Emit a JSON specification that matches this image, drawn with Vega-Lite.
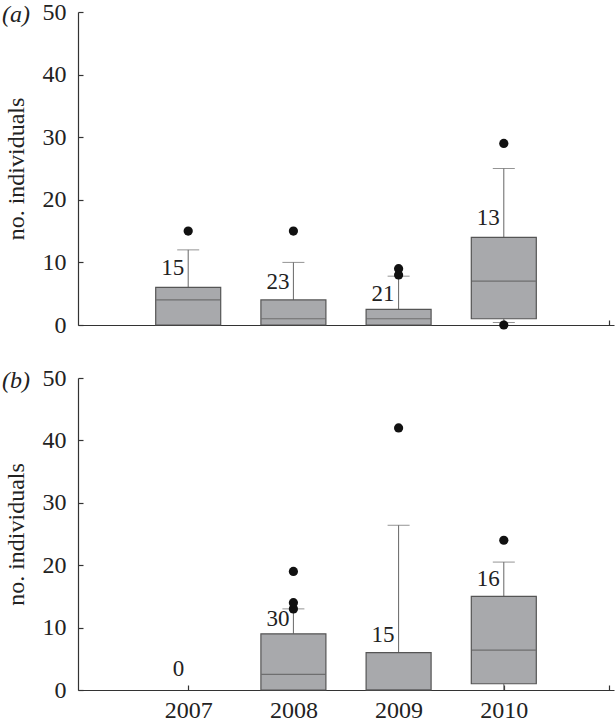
{
  "$schema": "https://vega.github.io/schema/vega-lite/v6.json",
  "autosize": {"type": "pad"},
  "padding": {"left": 2, "top": 0, "right": 1, "bottom": 3},
  "background": "white",
  "spacing": 29,
  "config": {
    "font": "'Liberation Serif', 'Times New Roman', Times, serif",
    "view": {"stroke": null},
    "axis": {
      "grid": false,
      "domainColor": "#333",
      "domainWidth": 1.2,
      "tickColor": "#333",
      "tickSize": -5,
      "tickWidth": 1.2,
      "labelFont": "'Liberation Serif', 'Times New Roman', Times, serif",
      "labelFontSize": 24,
      "labelColor": "#222",
      "titleFont": "'Liberation Serif', 'Times New Roman', Times, serif",
      "titleFontSize": 24,
      "titleFontWeight": "normal",
      "titleColor": "#222"
    }
  },
  "datasets": {
    "boxes": [
      {"panel": "a", "year": 2007, "lo": 0, "q1": 0, "median": 4, "q3": 6, "hi": 12},
      {"panel": "a", "year": 2008, "lo": 0, "q1": 0, "median": 1, "q3": 4, "hi": 10},
      {"panel": "a", "year": 2009, "lo": 0, "q1": 0, "median": 1, "q3": 2.5, "hi": 7.8},
      {"panel": "a", "year": 2010, "lo": 0.4, "q1": 1, "median": 7, "q3": 14, "hi": 25},
      {"panel": "b", "year": 2008, "lo": 0, "q1": 0, "median": 2.5, "q3": 9, "hi": 13},
      {"panel": "b", "year": 2009, "lo": 0, "q1": 0, "median": 0, "q3": 6, "hi": 26.4},
      {"panel": "b", "year": 2010, "lo": 0, "q1": 1, "median": 6.4, "q3": 15, "hi": 20.5}
    ],
    "outliers": [
      {"panel": "a", "year": 2007, "value": 15},
      {"panel": "a", "year": 2008, "value": 15},
      {"panel": "a", "year": 2009, "value": 8},
      {"panel": "a", "year": 2009, "value": 9},
      {"panel": "a", "year": 2010, "value": 29},
      {"panel": "a", "year": 2010, "value": 0},
      {"panel": "b", "year": 2008, "value": 13},
      {"panel": "b", "year": 2008, "value": 14},
      {"panel": "b", "year": 2008, "value": 19},
      {"panel": "b", "year": 2009, "value": 42},
      {"panel": "b", "year": 2010, "value": 24}
    ],
    "counts": [
      {"panel": "a", "year": 2007, "n": "15", "pos": 9.1},
      {"panel": "a", "year": 2008, "n": "23", "pos": 6.9},
      {"panel": "a", "year": 2009, "n": "21", "pos": 5.0},
      {"panel": "a", "year": 2010, "n": "13", "pos": 17.1},
      {"panel": "b", "year": 2007, "n": "0", "pos": 3.3},
      {"panel": "b", "year": 2008, "n": "30", "pos": 11.4},
      {"panel": "b", "year": 2009, "n": "15", "pos": 8.8},
      {"panel": "b", "year": 2010, "n": "16", "pos": 17.8}
    ]
  },
  "vconcat": [
    {
      "width": 536,
      "height": 313,
      "title": {"text": "(a)", "anchor": "start", "frame": "bounds", "font": "'Liberation Serif', 'Times New Roman', Times, serif", "fontSize": 24, "fontWeight": "normal", "fontStyle": "italic", "color": "#222", "offset": 0, "dy": 27, "dx": -2},
      "layer": [
        {
          "data": {"name": "boxes"},
          "transform": [{"filter": "datum.panel === 'a'"}],
          "mark": {"type": "rule", "color": "#666", "strokeWidth": 1},
          "encoding": {
            "x": {"field": "year", "type": "quantitative", "scale": {"domain": [2006, 2011], "nice": false, "zero": false},
              "axis": {"values": [2007, 2008, 2009, 2010, 2011], "labels": false, "title": null}},
            "y": {"field": "q3", "type": "quantitative", "scale": {"domain": [0, 50], "nice": false},
              "axis": {"title": "no. individuals", "values": [0, 10, 20, 30, 40, 50], "labelPadding": 17, "titlePadding": 14}},
            "y2": {"field": "hi"}
          }
        },
        {
          "data": {"name": "boxes"},
          "transform": [{"filter": "datum.panel === 'a'"}],
          "mark": {"type": "rule", "color": "#666", "strokeWidth": 1},
          "encoding": {
            "x": {"field": "year", "type": "quantitative"},
            "y": {"field": "lo", "type": "quantitative"},
            "y2": {"field": "q1"}
          }
        },
        {
          "data": {"name": "boxes"},
          "transform": [{"filter": "datum.panel === 'a'"}],
          "mark": {"type": "tick", "orient": "horizontal", "size": 22, "thickness": 1, "color": "#666"},
          "encoding": {
            "x": {"field": "year", "type": "quantitative"},
            "y": {"field": "hi", "type": "quantitative"}
          }
        },
        {
          "data": {"name": "boxes"},
          "transform": [{"filter": "datum.panel === 'a' && datum.lo > 0"}],
          "mark": {"type": "tick", "orient": "horizontal", "size": 22, "thickness": 1, "color": "#666"},
          "encoding": {
            "x": {"field": "year", "type": "quantitative"},
            "y": {"field": "lo", "type": "quantitative"}
          }
        },
        {
          "data": {"name": "boxes"},
          "transform": [{"filter": "datum.panel === 'a'"}],
          "mark": {"type": "bar", "size": 65, "fill": "#a8a9ac", "stroke": "#555", "strokeWidth": 1.2},
          "encoding": {
            "x": {"field": "year", "type": "quantitative"},
            "y": {"field": "q1", "type": "quantitative"},
            "y2": {"field": "q3"}
          }
        },
        {
          "data": {"name": "boxes"},
          "transform": [{"filter": "datum.panel === 'a'"}],
          "mark": {"type": "tick", "orient": "horizontal", "size": 64, "thickness": 1.2, "color": "#555"},
          "encoding": {
            "x": {"field": "year", "type": "quantitative"},
            "y": {"field": "median", "type": "quantitative"}
          }
        },
        {
          "data": {"name": "outliers"},
          "transform": [{"filter": "datum.panel === 'a'"}],
          "mark": {"type": "point", "filled": true, "shape": "circle", "size": 85, "color": "#111", "opacity": 1},
          "encoding": {
            "x": {"field": "year", "type": "quantitative"},
            "y": {"field": "value", "type": "quantitative"}
          }
        },
        {
          "data": {"name": "counts"},
          "transform": [{"filter": "datum.panel === 'a'"}],
          "mark": {"type": "text", "align": "right", "baseline": "middle", "dx": -4, "fontSize": 23, "color": "#222"},
          "encoding": {
            "x": {"field": "year", "type": "quantitative"},
            "y": {"field": "pos", "type": "quantitative"},
            "text": {"field": "n"}
          }
        }
      ]
    },
    {
      "width": 536,
      "height": 312,
      "title": {"text": "(b)", "anchor": "start", "frame": "bounds", "font": "'Liberation Serif', 'Times New Roman', Times, serif", "fontSize": 24, "fontWeight": "normal", "fontStyle": "italic", "color": "#222", "offset": 0, "dy": 27, "dx": -2},
      "layer": [
        {
          "data": {"name": "boxes"},
          "transform": [{"filter": "datum.panel === 'b'"}],
          "mark": {"type": "rule", "color": "#666", "strokeWidth": 1},
          "encoding": {
            "x": {"field": "year", "type": "quantitative", "scale": {"domain": [2006, 2011], "nice": false, "zero": false},
              "axis": {"values": [2007, 2008, 2009, 2010, 2011], "format": "d", "labelExpr": "datum.value >= 2011 ? '' : datum.label", "labelPadding": 13, "title": null}},
            "y": {"field": "q3", "type": "quantitative", "scale": {"domain": [0, 50], "nice": false},
              "axis": {"title": "no. individuals", "values": [0, 10, 20, 30, 40, 50], "labelPadding": 17, "titlePadding": 14}},
            "y2": {"field": "hi"}
          }
        },
        {
          "data": {"name": "boxes"},
          "transform": [{"filter": "datum.panel === 'b'"}],
          "mark": {"type": "rule", "color": "#666", "strokeWidth": 1},
          "encoding": {
            "x": {"field": "year", "type": "quantitative"},
            "y": {"field": "lo", "type": "quantitative"},
            "y2": {"field": "q1"}
          }
        },
        {
          "data": {"name": "boxes"},
          "transform": [{"filter": "datum.panel === 'b'"}],
          "mark": {"type": "tick", "orient": "horizontal", "size": 22, "thickness": 1, "color": "#666"},
          "encoding": {
            "x": {"field": "year", "type": "quantitative"},
            "y": {"field": "hi", "type": "quantitative"}
          }
        },
        {
          "data": {"name": "boxes"},
          "transform": [{"filter": "datum.panel === 'b'"}],
          "mark": {"type": "bar", "size": 65, "fill": "#a8a9ac", "stroke": "#555", "strokeWidth": 1.2},
          "encoding": {
            "x": {"field": "year", "type": "quantitative"},
            "y": {"field": "q1", "type": "quantitative"},
            "y2": {"field": "q3"}
          }
        },
        {
          "data": {"name": "boxes"},
          "transform": [{"filter": "datum.panel === 'b'"}],
          "mark": {"type": "tick", "orient": "horizontal", "size": 64, "thickness": 1.2, "color": "#555"},
          "encoding": {
            "x": {"field": "year", "type": "quantitative"},
            "y": {"field": "median", "type": "quantitative"}
          }
        },
        {
          "data": {"name": "outliers"},
          "transform": [{"filter": "datum.panel === 'b'"}],
          "mark": {"type": "point", "filled": true, "shape": "circle", "size": 85, "color": "#111", "opacity": 1},
          "encoding": {
            "x": {"field": "year", "type": "quantitative"},
            "y": {"field": "value", "type": "quantitative"}
          }
        },
        {
          "data": {"name": "counts"},
          "transform": [{"filter": "datum.panel === 'b'"}],
          "mark": {"type": "text", "align": "right", "baseline": "middle", "dx": -4, "fontSize": 23, "color": "#222"},
          "encoding": {
            "x": {"field": "year", "type": "quantitative"},
            "y": {"field": "pos", "type": "quantitative"},
            "text": {"field": "n"}
          }
        }
      ]
    }
  ]
}
